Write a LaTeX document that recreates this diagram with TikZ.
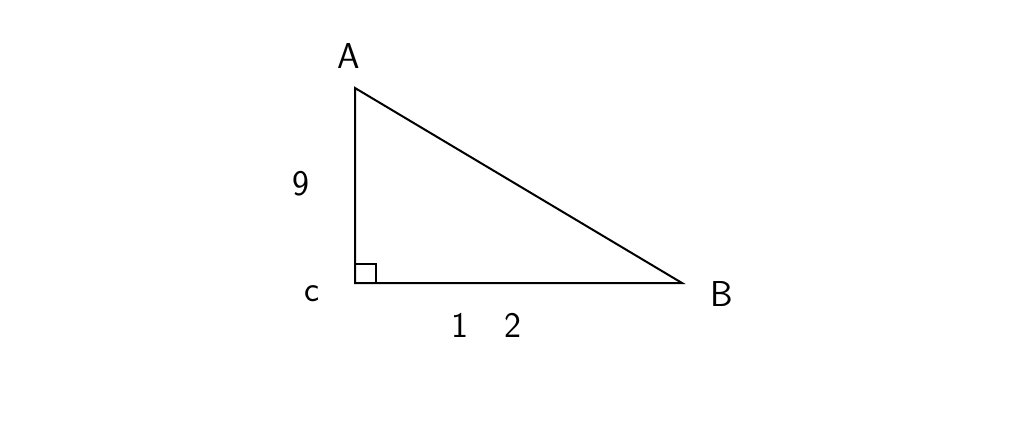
\documentclass[tikz,border=0pt]{standalone}
\usepackage{amssymb}
\usepackage{amsmath, amsthm}
\usepackage{fontspec}
\setmainfont{DejaVu Sans}

\begin{document}
\begin{tikzpicture}[x=0.75pt,y=0.75pt,yscale=-1,xscale=1]
        \useasboundingbox (0,0) rectangle (1024,428);
        \tikzset{lbl/.style={inner sep=0.75pt, font=\fontsize{27}{30}\selectfont\sffamily\mdseries}}

        % Vertices
        \coordinate (vA) at (355,88);
        \coordinate (vB) at (682,283);
        \coordinate (vC) at (355,283);

        %Shape: Triangle
        \draw [line width=1.5] (vA) -- (vB) -- (vC) -- cycle ;
        %Shape: Right angle
        \draw [line width=1] (355,264) -- (376,264) -- (376,283) ;

        % Text Node
        \draw (349,56) node [lbl] (labA) {A};
        % Text Node
        \draw (722,294) node [lbl] (labB) {B};
        % Text Node
        \draw (312,294) node [lbl] (labC) {c};
        % Text Node
        \draw (301,184) node [lbl] (len9) {9};
        % Text Node
        \draw (486,325) node [lbl] (len12) {1\hspace{27pt}2};

\end{tikzpicture}
\end{document}
